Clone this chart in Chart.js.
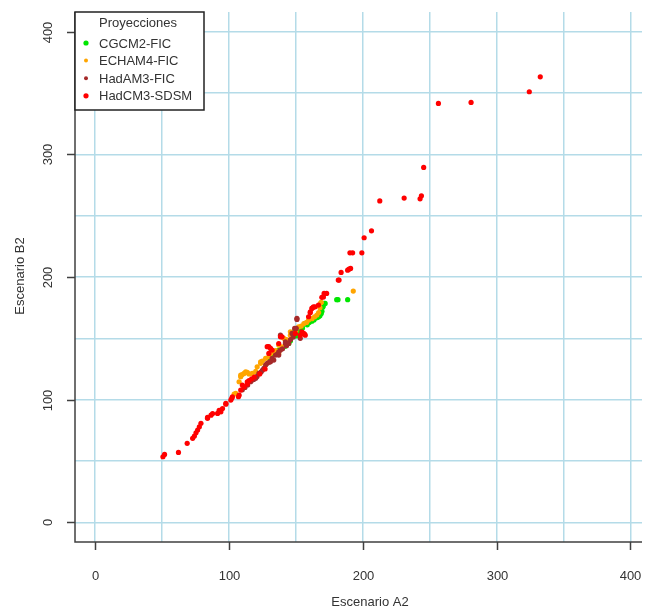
<!DOCTYPE html>
<html>
<head>
<meta charset="utf-8">
<script src="https://cdn.jsdelivr.net/npm/chart.js@4.4.1/dist/chart.umd.min.js"></script>
<style>html,body{margin:0;padding:0;background:#fff}</style>
</head>
<body>
<canvas id="chart" width="646" height="610"></canvas>
<script>
// ─── Data ─────────────────────────────────────────────────────────────────────

const seriesNames = ['CGCM2-FIC', 'ECHAM4-FIC', 'HadAM3-FIC', 'HadCM3-SDSM'];

// [Escenario A2, Escenario B2]
const cgcm2Fic = [
    [130, 134], [132.3, 136.4], [135, 138], [137.2, 140.4], [139.7, 141.8], [142, 143.5],
    [144.7, 145.8], [146, 148], [148.4, 155.3], [150, 152], [152, 155], [154, 157],
    [155, 158.5], [157, 162.2], [158.5, 161], [160, 163], [162, 164], [163.5, 165],
    [165, 166.5], [166, 167], [167, 167.6], [168, 168.5], [169, 170.3], [169.5, 172],
    [170.1, 175.3], [170.5, 176.5], [171.1, 178.6], [171.9, 178.5], [180.5, 181.5],
    [181.5, 181.5], [188.7, 181.5],
];

const echam4Fic = [
    [103.9, 104.6], [105.1, 105.1], [107.6, 114.6], [108.8, 118.7], [108.8, 120], [110, 120.5],
    [111.3, 121.4], [112.5, 122.7], [113.7, 122.2], [115, 121], [117.4, 121.4], [120, 123],
    [121.1, 126.8], [123.7, 129.6], [123.7, 130.9], [125, 131.5], [127.4, 133.7], [129.8, 135],
    [131.1, 137.7], [133, 138.5], [135, 140], [137.2, 137.7], [139.7, 143.1], [137.2, 144.5],
    [141, 150], [143, 149], [145.9, 152.6], [145.9, 155.3], [147.1, 154], [150, 156],
    [152.1, 159.4], [154, 160], [156, 162], [158, 163], [159.5, 164.9], [162, 166],
    [164, 167.5], [165.7, 169], [167, 171], [168, 175], [168.6, 179], [169, 179.4],
    [192.9, 188.5],
];

const hadam3Fic = [
    [110, 108], [112, 110], [114, 112], [116.2, 114.6], [117.4, 116], [118.5, 116.5],
    [120, 117.4], [121, 119], [122.4, 121.4], [124, 122.5], [125, 124], [126.1, 125.5],
    [127.4, 128.2], [128.6, 129.6], [130, 130.5], [131, 131], [132.3, 133.7], [133.5, 132.3],
    [134.8, 136.4], [136, 137], [137.2, 136.4], [137.2, 139], [138.5, 140.4], [140, 141.5],
    [142.2, 145.8], [142.2, 147.1], [143, 144], [144.7, 145.8], [146, 149], [147.1, 154],
    [148, 151], [149.1, 158.1], [150.3, 158.1], [150.8, 165.4], [150.8, 166.3], [153.3, 150],
    [138.5, 152.6],
];

const hadcm3Sdsm = [
    [50.7, 53.5], [51.9, 55.4], [62.3, 57], [68.8, 64.4], [72.9, 68.5], [74.2, 70.3],
    [75.4, 73], [76.6, 75.2], [77.9, 77.9], [79.1, 80.7], [84, 84.8], [84, 85.5],
    [86.6, 87.4], [87.8, 88.7], [91.5, 88.8], [92.7, 91.4], [94, 90.1], [95.2, 92.8],
    [97.7, 96.3], [97.7, 97], [101.4, 99.7], [102.1, 101.1], [102.6, 102.4], [107.1, 102.4],
    [107.6, 103.7], [108.8, 107.8], [110, 111.9], [111.3, 110.5], [113.7, 112.7], [113.7, 114.6],
    [115, 115.5], [117, 117], [119, 118.5], [123, 121], [127, 125], [128.6, 143.2],
    [129.8, 143.2], [131.1, 141.8], [132.3, 140.4], [129.8, 137.7], [137.2, 145.8], [138.5, 151.2],
    [139.7, 151.2], [149.6, 154], [153.3, 152.6], [155.8, 154], [157, 152.6], [154.5, 155.3],
    [156.5, 153.5], [159.5, 167.6], [160.7, 170.8], [160.8, 171.6], [161.9, 174.4], [162.5, 174.9],
    [163.2, 175.7], [164.4, 175.7], [166.9, 177.1], [169.4, 183.4], [170.6, 183.8], [171.1, 186.6],
    [173, 186.6], [181.7, 197.5], [182.3, 197.5], [183.8, 203.7], [188.7, 205.6], [189.7, 206.4],
    [190.9, 207], [190.4, 219.7], [192.4, 219.7], [199.3, 219.7], [201, 232], [206.5, 237.6],
    [212.7, 262], [230.9, 264.3], [242.8, 263.7], [243.8, 266.2], [245.5, 289.3], [256.5, 341.5],
    [280.9, 342.3], [324.4, 351], [332.6, 363.2],
];

const tickValues = [0, 100, 200, 300, 400];
const gridValues = [0, 50, 100, 150, 200, 250, 300, 350, 400];

// ─── Style ────────────────────────────────────────────────────────────────────

const colors = {
    green: '#00e600',
    orange: '#ffa500',
    brown: '#a52a2a',
    red: '#ff0000',
    grid: '#b4dbe8',
    axis: '#404040',
    text: '#333333',
};
const seriesColors = [colors.green, colors.orange, colors.brown, colors.red];
const font = '13px "Liberation Sans", Arial, sans-serif';

const toPoints = rows => rows.map(([x, y]) => ({ x, y }));

// R-like axes, tick labels, titles and legend box
const rAxes = {
    id: 'rAxes',
    afterDraw(chart) {
        const { ctx, chartArea: a, scales: { x, y } } = chart;
        ctx.save();
        ctx.strokeStyle = colors.axis;
        ctx.lineWidth = 1.5;
        ctx.beginPath();
        ctx.moveTo(a.left, a.top);
        ctx.lineTo(a.left, a.bottom);
        ctx.lineTo(a.right, a.bottom);
        ctx.stroke();

        ctx.fillStyle = colors.text;
        ctx.font = font;
        tickValues.forEach(v => {
            const px = Math.round(x.getPixelForValue(v)) + 0.5;
            const py = Math.round(y.getPixelForValue(v)) + 0.5;
            ctx.beginPath();
            ctx.moveTo(px, a.bottom);
            ctx.lineTo(px, a.bottom + 8);
            ctx.moveTo(a.left, py);
            ctx.lineTo(a.left - 8, py);
            ctx.stroke();

            ctx.textAlign = 'center';
            ctx.textBaseline = 'middle';
            ctx.fillText(String(v), px, a.bottom + 34);

            ctx.save();
            ctx.translate(a.left - 27, py);
            ctx.rotate(-Math.PI / 2);
            ctx.fillText(String(v), 0, 0);
            ctx.restore();
        });

        ctx.fillText('Escenario A2', 370, 602);
        ctx.save();
        ctx.translate(20, 276);
        ctx.rotate(-Math.PI / 2);
        ctx.fillText('Escenario B2', 0, 0);
        ctx.restore();

        // legend
        const lx = a.left, ly = 12, lw = 129, lh = 98;
        ctx.fillStyle = '#fff';
        ctx.fillRect(lx, ly, lw, lh);
        ctx.strokeStyle = '#222';
        ctx.lineWidth = 1.5;
        ctx.strokeRect(lx, ly, lw, lh);
        ctx.fillStyle = colors.text;
        ctx.textAlign = 'center';
        ctx.fillText('Proyecciones', lx + 63, ly + 11);
        seriesNames.forEach((name, i) => {
            const ry = ly + 31 + i * 17.6;
            ctx.fillStyle = seriesColors[i];
            ctx.beginPath();
            ctx.arc(lx + 11, ry, i === 1 || i === 2 ? 2 : 2.6, 0, Math.PI * 2);
            ctx.fill();
            ctx.fillStyle = colors.text;
            ctx.textAlign = 'left';
            ctx.fillText(name, lx + 24, ry + 1);
        });
        ctx.restore();
    },
};

const gridScale = (min, max) => ({
    type: 'linear',
    min,
    max,
    afterBuildTicks: s => { s.ticks = gridValues.map(value => ({ value })); },
    ticks: { display: false },
    grid: { color: colors.grid, lineWidth: 1.5, drawTicks: false },
    border: { display: false },
});

new Chart(document.getElementById('chart'), {
    type: 'scatter',
    data: {
        // later series drawn on top, as in the original plot
        datasets: [cgcm2Fic, echam4Fic, hadam3Fic, hadcm3Sdsm].map((rows, i) => ({
            label: seriesNames[i],
            data: toPoints(rows),
            backgroundColor: seriesColors[i],
            borderWidth: 0,
            pointRadius: 2.6,
            order: 3 - i,
        })),
    },
    options: {
        responsive: false,
        animation: false,
        layout: { padding: { top: 12, right: 0, left: 0, bottom: 0 } },
        scales: {
            x: { ...gridScale(-15, 408.6), afterFit: s => { s.height = 68; } },
            y: { ...gridScale(-16, 416), afterFit: s => { s.width = 75; } },
        },
        plugins: { legend: { display: false }, tooltip: { enabled: false } },
    },
    plugins: [rAxes],
});
</script>
</body>
</html>
